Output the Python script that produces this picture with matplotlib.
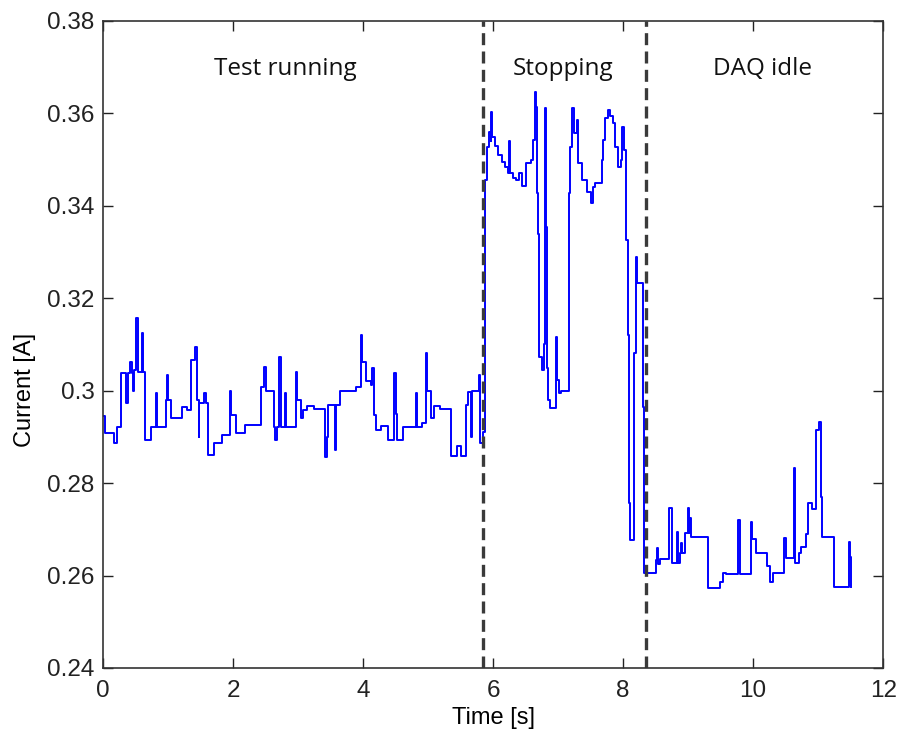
import matplotlib
matplotlib.use("Agg")
import matplotlib.pyplot as plt

# Step breakpoints (time [s], current [A])
time_s = [
    0.00, 0.03, 0.17, 0.21, 0.28, 0.36, 0.38, 0.42, 0.44, 0.46, 0.48, 0.51, 0.53, 0.60, 0.62,
    0.65, 0.73, 0.81, 0.83, 0.97, 0.99, 1.00, 1.04, 1.21, 1.29, 1.35, 1.41, 1.45, 1.47, 1.48,
    1.56, 1.58, 1.62, 1.70, 1.83, 1.95, 1.97, 2.05, 2.18, 2.43, 2.48, 2.50, 2.63, 2.65, 2.67,
    2.71, 2.73, 2.80, 2.82, 2.97, 2.99, 3.04, 3.08, 3.13, 3.25, 3.41, 3.44, 3.46, 3.56, 3.58,
    3.64, 3.89, 3.96, 3.98, 4.05, 4.12, 4.14, 4.16, 4.20, 4.28, 4.38, 4.48, 4.50, 4.52, 4.62,
    4.81, 4.83, 4.90, 4.97, 4.99, 5.04, 5.09, 5.19, 5.35, 5.45, 5.50, 5.58, 5.61, 5.66, 5.68,
    5.78, 5.80, 5.85,
    5.88, 5.90, 5.93, 5.96, 5.97, 5.99, 6.03, 6.08, 6.13, 6.18, 6.23, 6.24, 6.26, 6.30, 6.35,
    6.40, 6.45, 6.50, 6.58, 6.61, 6.64, 6.66, 6.68, 6.69, 6.70, 6.71, 6.75, 6.78, 6.80, 6.81,
    6.83, 6.85, 6.87, 6.97, 6.99, 7.02, 7.04, 7.16, 7.18, 7.21, 7.24, 7.29, 7.31, 7.37, 7.45,
    7.50, 7.53, 7.57, 7.67, 7.69, 7.72, 7.76, 7.80, 7.84, 7.88, 7.92, 7.96, 7.98, 8.02, 8.05,
    8.07, 8.09, 8.11, 8.17, 8.19, 8.21, 8.30,
    8.32, 8.50, 8.52, 8.53, 8.57, 8.71, 8.75, 8.83, 8.85, 8.87, 8.89, 8.90, 8.95, 8.99, 9.01,
    9.03, 9.04, 9.30, 9.49, 9.54, 9.58, 9.76, 9.79, 9.96, 9.98, 10.04, 10.22, 10.26, 10.31,
    10.48, 10.50, 10.63, 10.65, 10.70, 10.74, 10.82, 10.84, 10.90, 10.96, 11.02, 11.04, 11.06,
    11.24, 11.48, 11.49, 11.50, 11.51,
]
current_a = [
    0.2945, 0.2908, 0.2887, 0.2922, 0.3038, 0.2973, 0.3038, 0.3062, 0.3038, 0.3000, 0.3045, 0.3157, 0.3040, 0.3125, 0.3040,
    0.2893, 0.2922, 0.2995, 0.2922, 0.2980, 0.3034, 0.2980, 0.2941, 0.2965, 0.2958, 0.3066, 0.3095, 0.2980, 0.2900, 0.2973,
    0.2995, 0.2973, 0.2861, 0.2887, 0.2904, 0.3000, 0.2947, 0.2908, 0.2926, 0.3008, 0.3051, 0.3000, 0.2922, 0.2893, 0.2922,
    0.3073, 0.2922, 0.2995, 0.2922, 0.3040, 0.2980, 0.2940, 0.2958, 0.2967, 0.2960, 0.2857, 0.2900, 0.2970, 0.2872, 0.2970,
    0.3000, 0.3008, 0.3121, 0.3062, 0.3020, 0.3013, 0.3050, 0.2947, 0.2915, 0.2924, 0.2893, 0.3038, 0.2950, 0.2893, 0.2922,
    0.2995, 0.2922, 0.2930, 0.3081, 0.3000, 0.2940, 0.2967, 0.2960, 0.2859, 0.2880, 0.2859, 0.2970, 0.2997, 0.2900, 0.3000,
    0.3034, 0.2887, 0.2910,
    0.3456, 0.3527, 0.3560, 0.3540, 0.3603, 0.3550, 0.3530, 0.3510, 0.3495, 0.3484, 0.3470, 0.3540, 0.3470, 0.3460, 0.3456,
    0.3470, 0.3443, 0.3493, 0.3500, 0.3542, 0.3646, 0.3614, 0.3428, 0.3340, 0.3168, 0.3073, 0.3045, 0.3100, 0.3612, 0.3354,
    0.3050, 0.2980, 0.2963, 0.3116, 0.3023, 0.2995, 0.3000, 0.3428, 0.3527, 0.3612, 0.3558, 0.3586, 0.3493, 0.3456, 0.3430,
    0.3406, 0.3440, 0.3450, 0.3500, 0.3542, 0.3590, 0.3607, 0.3595, 0.3580, 0.3527, 0.3484, 0.3500, 0.3570, 0.3520, 0.3326,
    0.3120, 0.2757, 0.2677, 0.3081, 0.3289, 0.3233, 0.2965,
    0.2606, 0.2634, 0.2660, 0.2625, 0.2636, 0.2746, 0.2627, 0.2694, 0.2627, 0.2649, 0.2670, 0.2649, 0.2692, 0.2746, 0.2692,
    0.2724, 0.2683, 0.2573, 0.2586, 0.2606, 0.2603, 0.2720, 0.2603, 0.2716, 0.2680, 0.2649, 0.2620, 0.2586, 0.2606,
    0.2681, 0.2638, 0.2833, 0.2627, 0.2649, 0.2662, 0.2690, 0.2757, 0.2745, 0.2915, 0.2932, 0.2770, 0.2683,
    0.2575, 0.2673, 0.2640, 0.2575, 0.2575,
]

phase_bounds = [5.85, 8.35]
phase_labels = ["Test running", "Stopping", "DAQ idle"]
phase_label_x = [2.8, 7.08, 10.15]

x_ticks = [0, 2, 4, 6, 8, 10, 12]
y_ticks = [0.24, 0.26, 0.28, 0.30, 0.32, 0.34, 0.36, 0.38]
y_tick_labels = ["0.24", "0.26", "0.28", "0.3", "0.32", "0.34", "0.36", "0.38"]

plt.rcParams['font.family'] = ['Liberation Sans', 'DejaVu Sans']

fig = plt.figure(figsize=(9.04, 7.33), dpi=100)
ax = fig.add_axes([0.114, 0.0887, 0.863, 0.8827])

ax.plot(time_s, current_a, drawstyle='steps-post', color='#0000ff', lw=1.4)

for b in phase_bounds:
    ax.axvline(b, color='#3a3a3a', lw=2.4, ls=(0, (3.6, 1.9)))

for lx, lab in zip(phase_label_x, phase_labels):
    ax.text(lx, 0.3697, lab, ha='center', va='center', fontsize=17.5,
            family=['Open Sans', 'DejaVu Sans'], color='#111111')

ax.set_xlim(0, 12)
ax.set_ylim(0.24, 0.38)
ax.set_xticks(x_ticks)
ax.set_yticks(y_ticks)
ax.set_yticklabels(y_tick_labels)
ax.tick_params(direction='in', top=True, right=True, labelsize=17.5, length=7, width=1,
               colors='#222222', pad=6)
ax.tick_params(axis='x', pad=9)
for s in ax.spines.values():
    s.set_color('#333333')
    s.set_linewidth(1.2)

ax.set_xlabel('Time [s]', fontsize=17, labelpad=3)
ax.set_ylabel('Current [A]', fontsize=17)
ax.yaxis.set_label_coords(-0.086, 0.43)

fig.savefig('out.png', dpi=100)
